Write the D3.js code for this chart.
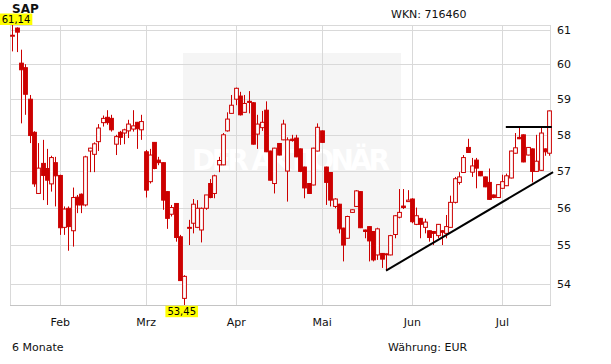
<!DOCTYPE html>
<html><head><meta charset="utf-8">
<script src="https://cdn.jsdelivr.net/npm/d3@7"></script>
<style>
html,body{margin:0;padding:0;background:#fff;}
svg{display:block;font-family:"DejaVu Sans",Verdana,sans-serif;}
</style></head>
<body>
<svg id="chart" width="611" height="364"></svg>
<script>
// ---- data (SAP, daily candles, EUR) ----
const dates = [
"17.01","20.01","21.01","22.01","23.01","24.01","27.01","28.01","29.01","30.01","31.01",
"03.02","04.02","05.02","06.02","07.02","10.02","11.02","12.02","13.02","14.02","17.02","18.02","19.02","20.02","21.02","24.02","25.02","26.02","27.02","28.02",
"03.03","04.03","05.03","06.03","07.03","10.03","11.03","12.03","13.03","14.03","17.03","18.03","19.03","20.03","21.03","24.03","25.03","26.03","27.03","28.03","31.03",
"01.04","02.04","03.04","04.04","07.04","08.04","09.04","10.04","11.04","14.04","15.04","16.04","17.04","22.04","23.04","24.04","25.04","28.04","29.04","30.04",
"02.05","05.05","06.05","07.05","08.05","09.05","12.05","13.05","14.05","15.05","16.05","19.05","20.05","21.05","22.05","23.05","26.05","27.05","28.05","29.05","30.05",
"02.06","03.06","04.06","05.06","06.06","09.06","10.06","11.06","12.06","13.06","16.06","17.06","18.06","19.06","20.06","23.06","24.06","25.06","26.06","27.06","30.06",
"01.07","02.07","03.07","04.07","07.07","08.07","09.07","10.07","11.07","14.07","15.07","16.07"];

const open = [
60.82,61.05,60.03,59.90,59.00,58.07,56.39,57.21,57.07,56.65,57.23,
56.88,55.48,55.99,55.39,56.29,56.37,56.08,57.55,57.46,57.81,58.34,58.49,58.46,57.74,58.07,58.05,58.11,58.16,58.35,58.14,
57.53,56.71,57.79,57.30,57.23,56.44,55.83,56.12,55.23,53.62,55.47,55.59,55.48,55.41,55.99,56.66,56.39,57.17,57.17,58.11,58.60,
59.00,59.09,58.63,58.94,58.90,58.02,58.20,58.69,57.55,56.66,57.76,57.86,57.00,57.88,57.91,57.61,57.11,56.66,56.62,57.55,
58.11,57.11,56.96,56.04,56.10,55.46,55.19,55.88,56.04,56.44,55.41,55.50,55.37,54.75,54.79,54.77,54.75,55.29,55.75,56.05,56.17,
56.24,55.56,55.72,55.48,55.39,55.37,55.26,55.39,55.32,55.48,56.15,56.69,56.96,57.65,56.97,57.30,56.99,56.84,56.69,56.35,56.28,
56.53,56.60,56.81,57.49,57.93,58.00,57.44,57.61,56.99,57.02,57.61,57.49];
const high = [
61.14,61.07,60.42,60.00,59.12,58.10,57.77,57.86,57.61,57.42,57.39,
56.90,56.04,56.04,56.55,56.35,56.39,57.42,57.64,57.79,58.30,58.54,58.69,58.56,58.00,58.11,58.17,58.42,58.69,58.36,58.56,
57.58,57.61,57.80,57.39,57.24,56.45,56.08,56.13,55.28,54.22,55.68,56.24,56.21,56.01,56.35,56.78,56.90,57.39,58.05,58.63,59.12,
59.33,59.21,59.12,59.23,58.92,58.56,58.67,58.94,57.56,57.64,57.77,58.42,57.93,58.00,58.00,57.62,57.12,56.67,57.64,58.32,
58.12,57.12,56.97,56.26,56.11,55.47,55.79,55.96,56.48,56.45,55.42,55.51,55.38,55.47,54.80,54.79,55.28,55.81,56.51,56.51,56.48,
56.26,56.01,55.73,55.71,55.40,55.38,55.57,55.41,55.81,56.33,56.84,56.97,57.44,57.89,57.36,57.36,57.00,56.85,57.07,56.36,56.64,
56.90,56.93,57.56,58.05,58.23,58.01,57.66,57.62,58.00,58.23,57.62,58.68];
const low = [
60.37,60.35,58.32,58.56,57.77,56.57,56.39,56.21,56.08,56.44,56.04,
55.28,55.28,54.86,54.97,55.86,55.86,56.04,56.97,56.97,57.55,58.23,58.28,58.09,57.44,57.72,57.74,57.91,58.09,57.61,57.86,
56.28,56.66,57.05,57.16,55.95,55.44,55.77,55.10,54.07,53.45,55.01,55.32,55.46,55.08,55.95,56.26,56.26,56.97,57.16,58.09,58.60,
58.83,58.54,58.63,58.60,57.73,57.61,58.11,57.52,56.74,56.39,57.43,57.85,56.17,57.81,57.38,56.97,56.26,56.38,56.61,57.54,
57.78,56.08,56.04,55.99,55.32,54.58,55.18,55.87,56.03,55.46,55.19,54.58,54.58,54.62,54.41,54.34,54.74,55.19,55.72,55.97,56.16,
55.59,55.54,55.19,55.32,55.10,55.01,55.19,55.01,55.19,55.47,56.12,56.63,56.95,57.50,56.84,56.53,56.86,56.56,56.22,56.26,56.27,
56.52,56.59,56.80,57.48,57.88,57.24,57.43,56.69,56.98,57.01,57.42,57.42];
const close = [
60.84,60.93,59.84,59.14,57.98,56.65,57.08,56.88,56.75,57.37,56.87,
55.47,55.97,55.50,56.28,56.08,56.08,57.39,57.63,57.75,58.19,58.46,58.34,58.14,57.95,57.93,58.14,58.30,58.25,58.17,58.37,
56.48,57.44,57.07,57.23,56.21,55.72,56.01,55.21,54.08,54.19,55.48,56.10,55.99,55.99,56.35,56.28,56.87,57.29,58.00,58.44,58.83,
59.31,58.56,58.88,58.91,57.74,58.30,58.35,57.53,56.75,57.63,57.44,58.30,57.86,57.84,57.39,56.99,56.54,56.39,57.63,58.21,
57.79,56.69,56.21,56.24,55.44,55.01,55.77,55.95,56.46,55.47,55.37,55.12,54.62,55.44,54.64,54.78,55.26,55.79,55.88,56.01,56.21,
55.63,55.79,55.56,55.62,55.21,55.32,55.56,55.35,55.50,56.15,56.79,56.84,57.37,57.51,57.14,57.08,56.87,56.57,56.23,56.28,56.63,
56.71,56.87,57.55,57.64,57.89,57.25,57.65,56.99,57.27,58.05,57.53,58.67];

const priceTicks = [54, 55, 56, 57, 58, 59, 60, 61];
const monthTickDates = ["03.02", "03.03", "01.04", "02.05", "02.06", "01.07"];
const monthLabels = ["Feb", "Mrz", "Apr", "Mai", "Jun", "Jul"];
const maxLabel = "61,14", minLabel = "53,45";
// trend lines: [candle index, price]
const supportLine = [[87, 54.34], [125.9, 56.97]];
const resistanceLine = [[114.9, 58.22], [125.6, 58.22]];

// ---- layout ----
const L = 10, R = 550, T = 25, B = 305;
const svg = d3.select("#chart");
const x = d3.scaleLinear().domain([0, dates.length - 1]).range([12.46, 549.2]);
const y = d3.scaleLog().domain([d3.min(low), d3.max(high)]).range([B, T]);
const RED = "#cc0000", GRID = "#d9d9d9";

// watermark panel
svg.append("rect").attr("x", 183).attr("y", 53).attr("width", 218).attr("height", 217).attr("fill", "#f5f5f5");
svg.append("text").attr("x", 192).attr("y", 170).attr("textLength", 198).attr("lengthAdjust", "spacing")
  .attr("font-size", 28).attr("font-weight", "bold").attr("fill", "#ffffff").text("DER AKTIONÄR");

// grid
const gx = svg.append("g").attr("transform", `translate(0,${T})`)
  .call(d3.axisBottom(x).tickValues(monthTickDates.map(d => dates.indexOf(d))).tickSize(B - T).tickFormat(""));
gx.select(".domain").remove();
gx.selectAll("line").attr("stroke", GRID).attr("shape-rendering", "crispEdges");
const gy = svg.append("g").attr("transform", `translate(${L},0)`)
  .call(d3.axisRight(y).tickValues(priceTicks).tickSize(R - L).tickFormat(""));
gy.select(".domain").remove();
gy.selectAll("line").attr("stroke", GRID).attr("shape-rendering", "crispEdges");

// frame
svg.append("rect").attr("x", L + 0.5).attr("y", T + 0.5).attr("width", R - L).attr("height", B - T)
  .attr("fill", "none").attr("stroke", GRID).attr("shape-rendering", "crispEdges");
svg.append("line").attr("x1", L).attr("x2", R + 1).attr("y1", B + 0.5).attr("y2", B + 0.5)
  .attr("stroke", "#c4c4c4").attr("shape-rendering", "crispEdges");

// axes labels
const ay = svg.append("g").attr("transform", `translate(${R},0)`)
  .call(d3.axisRight(y).tickValues(priceTicks).tickSize(0).tickPadding(7).tickFormat(d3.format("d")));
ay.select(".domain").remove();
ay.selectAll("text").attr("font-size", 11).attr("fill", "#111").attr("font-family", "DejaVu Sans, Verdana, sans-serif");

const ax = svg.append("g").attr("transform", `translate(0,${B})`)
  .call(d3.axisBottom(x).tickValues(monthTickDates.map(d => dates.indexOf(d))).tickSize(0).tickPadding(13)
    .tickFormat((d, i) => monthLabels[i]));
ax.select(".domain").remove();
ax.selectAll("text").attr("font-size", 11).attr("fill", "#111").attr("font-family", "DejaVu Sans, Verdana, sans-serif");

// candles
const idx = d3.range(dates.length);
const bw = 3.8;
const cg = svg.append("g");
cg.selectAll("line.wick").data(idx).join("line").attr("class", "wick")
  .attr("x1", i => Math.round(x(i)) + 0.5).attr("x2", i => Math.round(x(i)) + 0.5)
  .attr("y1", i => y(high[i])).attr("y2", i => y(low[i]))
  .attr("stroke", RED).attr("stroke-width", 1);
cg.selectAll("rect.body").data(idx).join("rect").attr("class", "body")
  .attr("x", i => Math.round(x(i)) + 0.5 - bw / 2)
  .attr("y", i => y(Math.max(open[i], close[i])))
  .attr("width", bw)
  .attr("height", i => Math.max(1, y(Math.min(open[i], close[i])) - y(Math.max(open[i], close[i]))))
  .attr("fill", i => close[i] < open[i] ? RED : "#ffffff")
  .attr("stroke", RED).attr("stroke-width", 1);

// trend lines
const ln = d3.line().x(d => x(d[0])).y(d => y(d[1]));
svg.append("path").attr("d", ln(supportLine)).attr("stroke", "#000").attr("stroke-width", 2).attr("fill", "none");
svg.append("path").attr("d", ln(resistanceLine)).attr("stroke", "#000").attr("stroke-width", 2).attr("fill", "none");

// title texts
svg.append("text").attr("x", 12).attr("y", 13).attr("font-size", 12).attr("font-weight", "bold").attr("fill", "#111").text("SAP");
svg.append("text").attr("x", 391).attr("y", 18).attr("font-size", 11).attr("fill", "#111").text("WKN: 716460");
svg.append("text").attr("x", 12).attr("y", 351).attr("font-size", 11).attr("fill", "#111").text("6 Monate");
svg.append("text").attr("x", 388).attr("y", 351).attr("font-size", 11).attr("fill", "#111").text("Währung: EUR");

// max / min labels
const iMax = high.indexOf(d3.max(high)), iMin = low.indexOf(d3.min(low));
function flag(txt, cx, top) {
  const g = svg.append("g");
  const t = g.append("text").attr("font-size", 10).attr("fill", "#000").text(txt);
  const w = t.node().getComputedTextLength() + 4;
  g.insert("rect", "text").attr("x", cx - w / 2).attr("y", top).attr("width", w).attr("height", 11.5).attr("fill", "#ffff00");
  t.attr("x", cx - w / 2 + 2).attr("y", top + 9.5);
}
flag(maxLabel, Math.max(x(iMax), 16), 13.5);
flag(minLabel, x(iMin) - 2.5, B + 0.7);
</script>
</body></html>
